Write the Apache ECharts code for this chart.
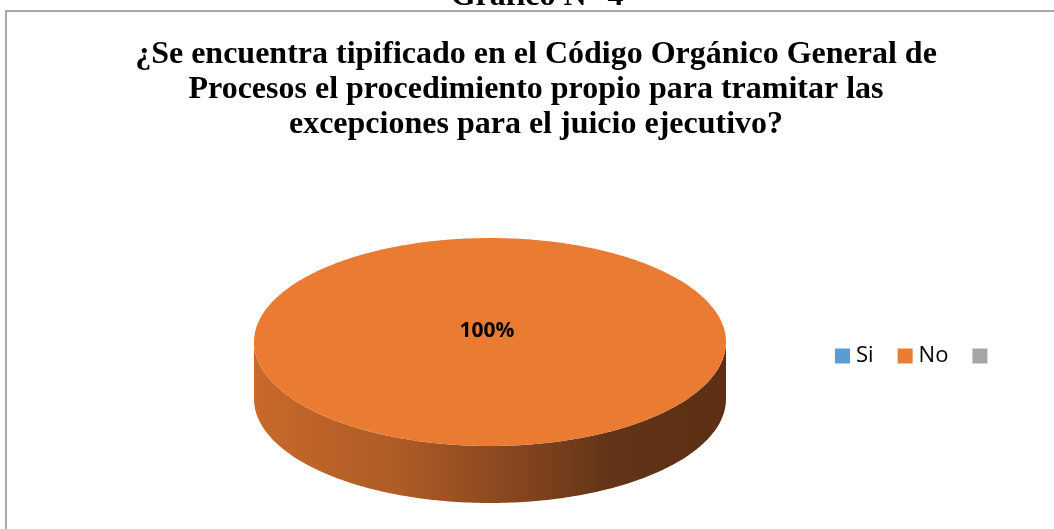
<!DOCTYPE html>
<html>
<head>
<meta charset="utf-8">
<script src="https://cdn.jsdelivr.net/npm/echarts@6/dist/echarts.min.js"></script>
<style>
  html, body { margin: 0; padding: 0; background: #fff; }
  #chart { width: 1054px; height: 529px; }
</style>
</head>
<body>
<div id="chart"></div>
<script>
// datos del gráfico
var categories = ['Si', 'No', ' '];
var values = [0, 100, 0];
var colors = ['#5B9BD5', '#E97C32', '#A5A5A5'];
var titleText = '¿Se encuentra tipificado en el Código Orgánico General de\nProcesos el procedimiento propio para tramitar las\nexcepciones para el juicio ejecutivo?';

// geometría del pastel 3D (elipse)
var pie = { cx: 490, cy: 342, rx: 236, ry: 104, depth: 57 };
var total = values.reduce(function (a, b) { return a + b; }, 0);

function pt(theta, dy) {
  // theta en grados, 0 = arriba, sentido horario
  var r = theta * Math.PI / 180;
  return [pie.cx + pie.rx * Math.sin(r), pie.cy - pie.ry * Math.cos(r) + (dy || 0)];
}

function renderSlice(params, api) {
  var idx = params.seriesIndex;
  var v = api.value(0);
  if (!v) return;
  var before = 0;
  for (var i = 0; i < idx; i++) before += values[i];
  var a0 = before / total * 360;
  var a1 = (before + v) / total * 360;
  var full = (a1 - a0) >= 359.99;
  var children = [];

  // pared frontal (solo parte visible entre 90 y 270 grados)
  var s = Math.max(a0, 90), e = Math.min(a1, 270);
  if (e > s) {
    var top = [], bot = [];
    for (var t = s; t <= e + 0.001; t += 1) {
      top.push(pt(Math.min(t, e), 0));
      bot.unshift(pt(Math.min(t, e), pie.depth));
    }
    children.push({
      type: 'polygon',
      z2: 0,
      shape: { points: top.concat(bot) },
      style: {
        fill: new echarts.graphic.LinearGradient(
          pie.cx - pie.rx, 0, pie.cx + pie.rx, 0, [
            { offset: 0, color: '#C9692B' },
            { offset: 0.3, color: '#AE5C25' },
            { offset: 0.55, color: '#874620' },
            { offset: 0.75, color: '#633417' },
            { offset: 1, color: '#5C3014' }
          ], true)
      }
    });
  }

  // cara superior
  var pts = full ? [] : [[pie.cx, pie.cy]];
  for (var t2 = a0; t2 <= a1 + 0.001; t2 += 1) pts.push(pt(Math.min(t2, a1), 0));
  children.push({
    type: 'polygon',
    z2: 10,
    shape: { points: pts },
    style: { fill: api.visual('color') }
  });

  // etiqueta de porcentaje
  var mid = (a0 + a1) / 2;
  var lp = full ? [pie.cx - 3, pie.cy - 11] : (function () {
    var q = pt(mid, 0);
    return [pie.cx + (q[0] - pie.cx) * 0.55, pie.cy + (q[1] - pie.cy) * 0.55];
  })();
  children.push({
    type: 'text',
    z2: 20,
    x: lp[0],
    y: lp[1],
    style: {
      text: Math.round(v / total * 100) + '%',
      fontFamily: 'Open Sans',
      fontWeight: 'bold',
      fontSize: 21,
      fill: '#000',
      align: 'center',
      verticalAlign: 'middle'
    }
  });

  return { type: 'group', children: children };
}

var chart = echarts.init(document.getElementById('chart'));

var series = categories.map(function (name, i) {
  return {
    name: name,
    type: 'custom',
    coordinateSystem: 'none',
    itemStyle: { color: colors[i] },
    renderItem: renderSlice,
    data: [[values[i]]]
  };
});

chart.setOption({
  backgroundColor: '#fff',
  animation: false,
  title: {
    text: titleText,
    left: 531,
    textAlign: 'center',
    top: 32,
    textStyle: {
      fontFamily: 'Liberation Serif',
      fontWeight: 'bold',
      fontSize: 32,
      lineHeight: 35,
      color: '#000'
    }
  },
  legend: {
    data: categories,
    left: 830,
    top: 340,
    icon: 'rect',
    itemWidth: 15,
    itemHeight: 15,
    itemGap: 24,
    selectedMode: false,
    textStyle: { fontFamily: 'Open Sans', fontSize: 22, color: '#000', padding: [0, 0, 0, 1] }
  },
  graphic: [
    {
      type: 'rect',
      shape: { x: 6, y: 11, width: 1100, height: 600 },
      style: { fill: null, stroke: '#8c8c8c', lineWidth: 1.5 },
      silent: true
    },
    {
      type: 'text',
      x: 537,
      y: -3,
      style: {
        text: 'Gráfico N° 4',
        fontFamily: 'Liberation Serif',
        fontWeight: 'bold',
        fontSize: 32,
        fill: '#000',
        align: 'center',
        verticalAlign: 'middle'
      }
    }
  ],
  series: series
});
</script>
</body>
</html>
